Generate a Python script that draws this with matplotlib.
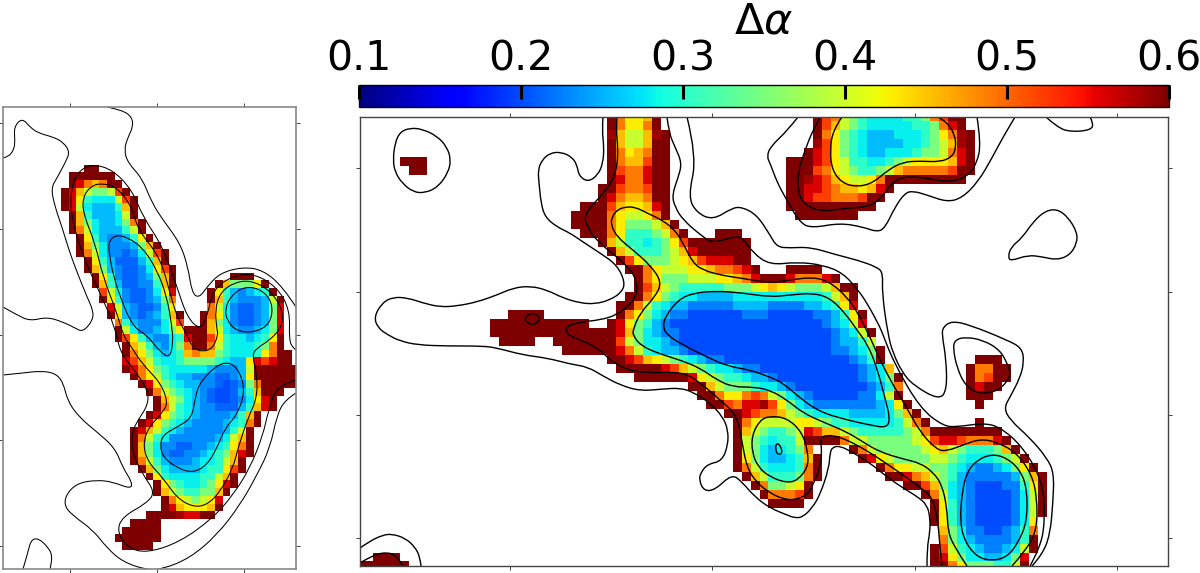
import matplotlib
matplotlib.use("Agg")
import matplotlib.pyplot as plt
from matplotlib.path import Path
from matplotlib.patches import PathPatch
import numpy as np

# cell codes -> delta alpha
codes = "abcdefghijklmon"
main_values = [0.185, 0.20, 0.225, 0.255, 0.28, 0.305, 0.35, 0.395, 0.43, 0.455, 0.49, 0.52, 0.56, 0.585, 0.60]
# the left map never gets as deep a blue
left_values = [0.20, 0.212, 0.232, 0.255, 0.28, 0.305, 0.35, 0.395, 0.43, 0.455, 0.49, 0.52, 0.56, 0.585, 0.60]

cbar_ticks = [0.1, 0.2, 0.3, 0.4, 0.5, 0.6]

# each row: "first_column:cells", blank outside the detected region
left_rows = [
    "", "", "", "", "", "", "", "",
    "11:nn",
    "9:nnnnnn",
    "9:nmkjknn",
    "8:nmjhgghln",
    "8:nmifeeehln",
    "8:nmhedddfjn",
    "9:njfdddehn",
    "9:njgeddegkn",
    "9:nkhedddfhn",
    "10:nifdccdfin",
    "10:njgecccdgjn",
    "10:nkheccbcehln",
    "11:nifdbbbdfjn",
    "11:njgdcbbceiln",
    "12:nifcbbcdgjn 30:nnn",
    "12:njfdbbccfjn 28:njgggin",
    "13:lhecbbceim 27:nifdcdefn",
    "13:nifcbbcdgk 27:njfdcccdhn",
    "14:mhdcbbcfi 27:khecbbcdgm",
    "14:nidcbcdfjn 26:nkiecbbcdgm",
    "15:kfdcccehl 26:njgecbbcdgm",
    "15:nheccdeginnnjhedccdegm",
    "15:nlifdccefmnnlifeedefin",
    "16:njhfdcegknnkhfeeefgkn",
    "16:nkigedefjkjjgfeeefiknn",
    "16:mljhfeefggggfeddimlmnn",
    "16:nmkigfeeeeedcccdhnnnnnn",
    "17:nkihfeddcccbbcdinnnnnn",
    "18:nmigfeddccbabcgknnnnn",
    "19:nkhgfedcbaabdfjnnn",
    "20:njhgedcbaabceimn",
    "20:nkhfedccbbbdfjmn",
    "19:nmigfedccccdfjn",
    "18:nmigfedccccdefkn",
    "17:nmjhfedcccccdfhn",
    "17:nkhfeccccccdehjn",
    "17:njgeccbbccdefikn",
    "17:njgecbbccdefgjmn",
    "17:nkhfdcccdeefhjn",
    "18:njgeddddeffiln",
    "19:nifeeeeffhjn",
    "20:nigfeefgimn",
    "20:njhgffggjn",
    "21:nkihghim",
    "21:nmjiiijn",
    "19:nnnnommnn",
    "17:nnnn",
    "16:nnnnn",
    "15:nnnnnn",
    "16:nnnn",
    "", "", "",
]

main_rows = [
    "28:nkiijn 51:nlkhgfeeeeffgklnn",
    "28:nkiikn 51:nljhgfeeeeeffgkmn",
    "28:ojhhjon 51:nkigfedddeeefgikon",
    "28:njhhjnn 51:oligfeddddeefghjon",
    "28:nkijknn 50:nmligfeddeeefgghkmn",
    "5:nnn 28:nkjjlnn 48:nnnmlihffeefghiiiijmn",
    "6:nn 28:nlkkmnn 48:nnnlkihgffghjkkkkklnn",
    "28:nmkkmnn 48:nnomljihhik" + "n" * 9,
    "27:nnlkklnn 48:nnmmlkjjijmn",
    "27:nmkjjknn 48:nnmllkkklnn",
    "25:nnnljiijmn 48:nnnnnnnnnn",
    "24:nnnnkihhikn 49:nnnnnnn",
    "24:nnnnkiggghjn",
    "25:nnnkifffghkn 40:nnn",
    "27:njhffefgil" + "n" * 7,
    "28:njhfffghjm" + "n" * 6,
    "29:nliggghijlmmmnn",
    "30:nnkihhhiijkklmn 48:nnnn",
    "31:nkiggghhhiijkmnnnmkkkmn",
    "31:nljhgfffffggghijihggghjnn",
    "30:nnkigfee" + "d" * 4 + "e" * 10 + "fhjn",
    "29:nnkhfedd" + "c" * 5 + "d" * 4 + "c" * 4 + "ddefim",
    "17:nnnn 29:nkigedcc" + "b" * 6 + "ccc" + "b" * 5 + "ccdfin",
    "15:" + "n" * 11 + " 28:nmigfdc" + "b" * 17 + "cdehm",
    "15:" + "n" * 14 + "mjgedcc" + "b" * 17 + "cdehn",
    "16:nnnn 22:" + "n" * 7 + "lhgeedc" + "b" * 17 + "cddfh",
    "23:" + "n" * 6 + "mkhfeddc" + "b" * 16 + "ccdegn",
    "28:nnmljihgfedcc" + "b" * 14 + "cdfn",
    "29:nnnnnmljhgfeedcc" + "b" * 11 + "cdej",
    "31:nnnnnnmihgffeddc" + "b" * 9 + "cdegn",
    "37:nnjhgggfeedc" + "b" * 8 + "cdfk",
    "38:nnkiiklkhged" + "c" + "b" * 5 + "ccehn",
    "39:nnlkmmoligedcccccccdein",
    "41:nnmlkkjhgfeeeeddddegjn",
    "42:nkihhhhiihgffeeeeefhkn 69:n",
    "42:njhgffghmljjhgfffffghk" + "n" * 8,
    "42:nhgfeffhnnnnkhhggggghilmmlkkkmn",
    "42:nhgedefgk 55:nkhggggghijhgfffgjn",
    "42:nigeddefjn 56:nmihgggghhgfeeefghn",
    "42:nkhfeeefkn 58:nkiihhggfedccdegin",
    "43:njhfffgkn 59:nnmkjhgfdcccccdgjn",
    "44:nkgghin 61:nnljgedcbbbccfin",
    "45:nkkkln 63:nkhedcbbbbcehn",
    "46:nnnn 64:nifdcbbbbcehn",
    "64:nifdcbbbbcehn",
    "64:nifdcbbbbcei",
    "65:jgeccbbcdfk",
    "65:kgedccccdfn",
    "64:nlhfedccdehn",
    "2:nnn 64:nmigeeddegm",
    "0:nnnnnn 64:nnkigggffhn",
]

# blob near the right edge of the main map, rows 27 to 34
main_rows[27] += " 69:nnn"
main_rows[28] += " 68:nkknn"
main_rows[29] += " 68:nklnn"
main_rows[30] += " 68:nmnn"
main_rows[31] += " 68:nnn"
main_rows[32] += " 69:n"

# contours, in image pixels
main_lines = [
    [(393,160),(395,143),(400,132),(410,128),(422,129),(437,136),(447,147),(451,160),(448,173),(438,187),(425,193),(413,192),(402,183),(395,172),(393,160)],
    [(603,117),(602,130),(604,147),(603,163),(598,175),(588,182),(579,176),(577,165),(572,157),(561,152),(550,153),(542,160),(538,170),(539,183),(541,203),(545,217),(557,227),(570,233),(583,242),(600,253),(617,265),(625,282),(622,292),(610,300),(595,304),(580,303),(563,298),(547,290),(530,286),(513,288),(497,295),(477,302),(457,306),(440,307),(423,303),(408,298),(393,297),(382,303),(374,317),(378,328),(388,335),(400,341),(418,345),(447,346),(483,346),(497,348),(523,355),(547,358),(570,364),(588,367),(603,376),(620,385),(640,391),(663,389),(680,388),(693,392),(710,403),(723,417),(728,430),(728,445),(722,461),(708,464),(701,472),(699,480),(704,491),(715,490),(732,474),(742,482),(755,497),(770,508),(787,515),(795,518),(803,517),(812,508),(820,495),(829,468),(830,452),(833,447),(840,446),(852,452),(870,463),(887,477),(903,488),(918,497),(927,505),(930,517),(930,532),(927,548),(927,566)],
    [(667,117),(669,133),(675,147),(682,163),(678,178),(672,195),(675,207),(683,220),(703,237),(713,243),(733,237),(742,237),(753,253),(770,265),(797,262),(823,265),(843,273),(858,290),(867,303),(880,327),(883,335),(895,365),(920,408),(943,426),(957,427),(983,423),(1000,427),(1023,447),(1043,482),(1045,522),(1040,548),(1030,566)],
    [(687,117),(697,157),(688,197),(697,213),(713,220),(732,208),(742,207),(757,215),(770,235),(777,247),(790,248),(810,247),(837,255),(857,260),(877,267),(883,273),(882,293),(888,335),(893,353),(902,372),(913,385),(939,400),(947,390),(946,358),(942,335),(943,327),(952,321),(970,325),(1007,340),(1022,348),(1024,362),(1020,378),(1010,397),(1004,408),(1010,420),(1030,438),(1047,458),(1054,473),(1053,502),(1050,535),(1042,555),(1032,566)],
    [(617,117),(616,130),(618,147),(617,170),(607,190),(592,205),(584,217),(588,228),(598,242),(617,257),(633,272),(638,288),(633,302),(617,315),(600,320),(580,322),(565,327),(568,335),(580,340),(598,348),(610,360),(627,370),(647,373),(670,372),(687,374),(703,385),(720,400),(737,415),(742,442),(747,468),(757,483),(770,493),(783,499),(795,500),(807,495),(813,485),(820,468),(822,452),(820,438),(827,435),(840,437),(857,445),(877,457),(903,475),(920,487),(933,498),(938,522),(940,548),(942,566)],
    [(967,566),(955,548),(948,532),(947,508),(942,485),(933,472),(920,463),(903,459),(880,452),(863,442),(847,432),(823,422),(803,413),(787,400),(770,390),(753,387),(733,387),(717,380),(700,368),(680,360),(657,353),(640,345),(633,335),(633,330),(640,313),(655,297),(662,282),(650,265),(633,250),(617,237),(611,225),(612,217),(617,210),(625,207),(635,207),(647,213),(662,220),(675,230),(683,243),(693,263),(703,270),(720,275),(740,278),(770,283),(790,280),(813,277),(830,282),(847,297),(858,313),(870,337),(880,360),(893,385),(907,408),(920,432),(937,450),(947,451),(963,445),(980,439),(997,442),(1017,453),(1032,475),(1037,498),(1037,528),(1028,548),(1012,566)],
    [(663,327),(665,317),(678,300),(693,293),(717,291),(743,293),(770,297),(790,295),(813,293),(830,298),(845,313),(857,330),(868,345),(877,368),(885,398),(890,418),(887,428),(870,425),(847,420),(820,412),(800,398),(783,383),(770,377),(750,370),(727,366),(707,357),(683,345),(667,335),(663,327)],
    [(820,117),(813,130),(805,150),(798,172),(798,193),(805,205),(822,212),(847,208),(867,207),(880,200),(894,180),(910,176),(930,179),(950,182),(967,177),(977,163),(981,143),(977,117)],
    [(842,117),(833,130),(830,150),(832,170),(842,183),(857,187),(873,183),(888,170),(903,162),(920,161),(940,162),(952,157),(956,148),(955,135),(947,122),(938,117)],
    [(798,117),(788,130),(770,147),(767,157),(770,163),(777,182),(785,197),(800,223),(812,228),(840,223),(863,227),(877,232),(885,228),(895,207),(905,193),(913,191),(927,195),(947,202),(962,198),(978,182),(992,158),(1003,137),(1015,117)],
    [(1046,117),(1057,127),(1070,132),(1092,130),(1093,122),(1090,117)],
    [(1008,257),(1011,247),(1022,238),(1033,222),(1045,211),(1057,209),(1068,217),(1077,232),(1077,243),(1070,255),(1057,260),(1043,257),(1028,255),(1011,261),(1008,257)],
    [(770,416),(760,420),(752,435),(752,452),(758,467),(770,477),(787,483),(798,480),(808,467),(808,452),(802,432),(787,418),(770,416)],
    [(775,445),(779,443),(783,453),(777,455),(775,445)],
    [(967,472),(977,460),(992,454),(1007,458),(1020,470),(1027,488),(1027,522),(1018,543),(1007,557),(992,561),(977,557),(965,542),(960,522),(962,492),(967,472)],
    [(953,348),(955,340),(965,337),(983,340),(1000,350),(1008,365),(1011,375),(1002,388),(990,393),(977,393),(965,385),(957,368),(953,348)],
    [(524,318),(533,312),(541,318),(535,325),(527,323),(524,318)],
    [(360,548),(370,541),(383,535),(392,534),(405,538),(415,547),(420,557),(421,566)],
    [(360,563),(373,555),(388,552),(398,557),(403,566)],
]

left_lines = [
    [(3,158),(8,157),(14,150),(15,140),(14,127),(22,118),(30,127),(38,133),(53,137),(63,142),(70,152),(65,163),(57,178),(51,188),(55,207),(62,227),(68,247),(75,267),(87,297),(93,310),(93,320),(83,332),(75,328),(63,322),(47,317),(30,321),(17,315),(3,307)],
    [(107,107),(122,110),(132,117),(133,127),(128,137),(124,150),(128,163),(142,178),(152,203),(163,220),(180,243),(188,267),(192,293),(199,298),(207,287),(220,273),(243,267),(263,270),(283,287),(296,307)],
    [(296,350),(293,348),(289,340),(290,310),(277,287),(253,273),(230,277),(213,290),(207,317),(200,330),(187,317),(177,287),(163,247),(143,217),(132,190),(113,170),(93,164),(80,170),(72,183),(70,213),(83,257),(100,293),(115,327),(120,352),(133,368),(148,390),(148,405),(138,420),(132,432),(132,452),(143,475),(155,492),(147,503),(122,517),(117,532),(128,548),(147,553),(180,542),(213,518),(233,495),(250,468),(263,435),(268,412),(277,385),(296,380)],
    [(83,197),(90,187),(100,183),(117,187),(132,207),(138,230),(160,257),(170,293),(177,317),(187,335),(193,348),(203,352),(213,348),(218,335),(217,330),(215,310),(220,293),(233,283),(250,280),(270,290),(283,310),(282,327),(270,340),(257,348),(252,355),(257,375),(257,398),(248,418),(238,448),(233,468),(220,492),(207,505),(193,507),(177,498),(163,478),(148,462),(143,445),(148,428),(163,412),(168,402),(160,382),(143,365),(130,345),(123,335),(117,313),(103,277),(95,243),(83,213),(83,197)],
    [(110,257),(108,243),(115,235),(127,237),(143,248),(157,270),(167,297),(172,327),(173,342),(170,358),(160,352),(147,335),(133,327),(120,297),(112,270),(110,257)],
    [(225,310),(230,297),(243,287),(258,288),(270,298),(273,313),(267,327),(250,333),(235,330),(227,320),(225,310)],
    [(160,445),(163,435),(177,427),(192,418),(195,398),(200,382),(217,365),(230,362),(240,372),(245,392),(237,415),(225,428),(217,448),(207,465),(193,473),(177,468),(163,457),(160,445)],
    [(3,375),(23,373),(40,371),(55,373),(63,382),(68,402),(80,418),(97,432),(115,448),(123,468),(132,482),(131,489),(113,482),(97,480),(78,483),(67,493),(64,505),(72,515),(93,530),(107,548),(123,562),(147,570),(163,569),(190,558),(217,535),(240,505),(257,475),(270,448),(277,415),(285,400),(296,393)],
    [(23,569),(28,552),(31,540),(38,538),(48,547),(53,557),(50,569)],
]

W, H = 1200, 573


def build_grid(rows, ncols, values):
    grid = np.full((len(rows), ncols), np.nan)
    for r, row in enumerate(rows):
        for seg in row.split():
            start, cells = seg.split(":")
            for i, ch in enumerate(cells):
                grid[r, int(start) + i] = values[codes.index(ch)]
    return grid


# round the digitised corners: every traced point is a bezier control point
def smooth_path(pts):
    closed = len(pts) > 3 and np.allclose(pts[0], pts[-1])
    if closed:
        pts = np.vstack([pts, pts[1]])
        verts = [(pts[0] + pts[1]) / 2]
    else:
        verts = [pts[0]]
    cmds = [Path.MOVETO]
    for i in range(1, len(pts) - 1):
        end = (pts[i] + pts[i + 1]) / 2
        if not closed and i == len(pts) - 2:
            end = pts[i + 1]
        verts += [pts[i], end]
        cmds += [Path.CURVE3, Path.CURVE3]
    return Path(verts, cmds)


def panel(box, rows, values, lines, ncols, nrows, xticks, yticks, edge, lw, line_w):
    x0, y0, x1, y1 = box
    ax = fig.add_axes([x0 / W, 1 - y1 / H, (x1 - x0) / W, (y1 - y0) / H])
    grid = build_grid(rows, ncols + 1, values)
    im = ax.imshow(grid, cmap="jet", vmin=0.1, vmax=0.6, aspect="auto", interpolation="nearest")
    for line in lines:
        pts = np.array(line, dtype=float)
        pts[:, 0] = (pts[:, 0] - x0) / (x1 - x0) * ncols
        pts[:, 1] = (pts[:, 1] - y0) / (y1 - y0) * nrows
        ax.add_patch(PathPatch(smooth_path(pts), fill=False, edgecolor="black", lw=line_w))
    ax.set_xlim(0, ncols)
    ax.set_ylim(nrows, 0)
    ax.set_xticks(xticks)
    ax.set_yticks(yticks)
    ax.tick_params(top=True, right=True, labelbottom=False, labelleft=False,
                   length=2.8, width=0.7, color="#444444")
    for s in ax.spines.values():
        s.set_color(edge)
        s.set_linewidth(lw)
    return im


fig = plt.figure(figsize=(12, 5.73), dpi=100)

im = panel((360, 117, 1168, 566), main_rows, main_values, main_lines, 90, 50,
           [16.7, 39.2, 61.8, 84.3], [5.7, 19.5, 33.2, 46.9], "#444444", 1.0, 1.0)
panel((3, 107, 296, 569), left_rows, left_values, left_lines, 38, 60,
      [8.7, 20, 31.3], [2.1, 15.8, 29.6, 43.2, 57], "#888888", 1.2, 0.75)

cax = fig.add_axes([359 / W, 1 - 107 / H, 810 / W, 22 / H])
cb = fig.colorbar(im, cax=cax, orientation="horizontal", ticks=cbar_ticks)
cb.ax.xaxis.set_ticks_position("top")
cb.ax.tick_params(axis="x", direction="in", length=10, width=2.2, color="black", labelsize=29.5, pad=4)
cb.outline.set_linewidth(1.0)
cb.ax.set_xticklabels(["0.1", "0.2", "0.3", "0.4", "0.5", "0.6"])
fig.text(764 / W, 1 - 33 / H, r"$\Delta\alpha$", fontsize=31, ha="center", va="baseline")

fig.savefig("out.png", dpi=100)
